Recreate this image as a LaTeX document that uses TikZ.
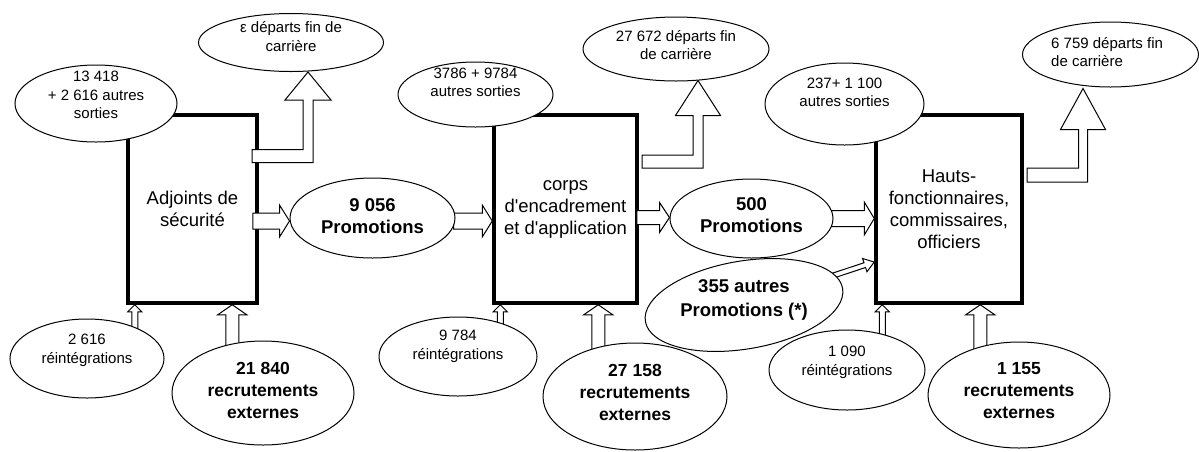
\documentclass[tikz,border=0pt]{standalone}
\usepackage{fontspec}
\setmainfont{Liberation Sans}
\usetikzlibrary{calc,shapes.geometric}

\pgfdeclarelayer{cadres}
\pgfdeclarelayer{fleches}
\pgfsetlayers{cadres,fleches,main}

\tikzset{
  corps/.style={draw, line width=3.5pt, minimum width=#1, minimum height=188pt,
    inner sep=0pt, align=center, font=\fontsize{18.5}{22}\selectfont},
  oval/.style={ellipse, draw, line width=1pt, fill=white, inner sep=0pt},
  txt/.style={align=center, inner sep=0pt, font=\fontsize{15}{18.5}\selectfont},
  btxt/.style={align=center, inner sep=0pt, font=\fontsize{18.5}{22.5}\selectfont\bfseries},
  rtxt/.style={align=center, inner sep=0pt, font=\fontsize{17.5}{22}\selectfont\bfseries},
  fleche/.style={draw, line width=1pt, fill=white, line join=miter},
}

% straight hollow block arrow: tail, tip, shaft half width, head half width, head length
\newcommand\blockarrow[5]{%
  \coordinate (ba-h) at ($(#2)!#5!(#1)$);
  \draw[fleche] ($(#1)!#3!90:(#2)$) -- ($(ba-h)!#3!90:(#2)$) -- ($(ba-h)!#4!90:(#2)$)
    -- (#2) -- ($(ba-h)!#4!-90:(#2)$) -- ($(ba-h)!#3!-90:(#2)$) -- ($(#1)!#3!-90:(#2)$) -- cycle;
}
% hollow arrow going right, then turning up: start, tip, bar half width,
% shaft half width, head half width, head length
\newcommand\bentarrow[6]{%
  \coordinate (bb-c) at (#2 |- #1);
  \draw[fleche] ($(#1)+(0,-#3)$) -- ($(bb-c)+(-#4,-#3)$) -- ($(#2)+(-#4,#6)$)
    -- ($(#2)+(-#5,#6)$) -- (#2) -- ($(#2)+(#5,#6)$) -- ($(#2)+(#4,#6)$)
    -- ($(bb-c)+(#4,#3)$) -- ($(#1)+(0,#3)$) -- cycle;
}

\begin{document}
\begin{tikzpicture}[x=1pt, y=-1pt]
\useasboundingbox (0,0) rectangle (1199,451);

% the three bodies
\begin{pgfonlayer}{cadres}
  \fill[white] (0,0) rectangle (1199,451);
  \node[corps=129pt] (b1) at (192.5,209) {Adjoints de\\sécurité};
  \node[corps=143pt] (b2) at (565.5,209) {corps\\d\textquotesingle encadrement\\et d\textquotesingle application};
  \node[corps=146pt] (b3) at (949,209) {Hauts-\\fonctionnaires,\\commissaires,\\officiers};
\end{pgfonlayer}

% departures and other exits
\node[oval, minimum width=185pt, minimum height=58pt] (eps) at (291,42.5) {};
\node[txt] (epst) at ($(eps.center)+(0,-6)$) {ε départs fin de\\carrière};
\node[oval, minimum width=162pt, minimum height=77pt] (s1) at (96,103.5) {};
\node[txt] (s1t) at ($(s1.center)+(0,-8.5)$) {13 418\\+ 2 616 autres\\sorties};
\node[oval, minimum width=155pt, minimum height=65pt] (s2) at (475.5,94.5) {};
\node[txt] (s2t) at ($(s2.center)+(0,-12)$) {3786 + 9784\\autres sorties};
\node[oval, minimum width=186pt, minimum height=64pt] (d2) at (676,49) {};
\node[txt] (d2t) at ($(d2.center)+(0,-4)$) {27 672 départs fin\\de carrière};
\node[oval, minimum width=159pt, minimum height=82pt] (s3) at (844.5,104) {};
\node[txt] (s3t) at ($(s3.center)+(0,-11.5)$) {237+ 1 100\\autres sorties};
\node[oval, minimum width=176pt, minimum height=65pt] (d3) at (1110.5,54.5) {};
\node[txt, align=left, anchor=west] (d3t) at ($(d3.center)+(-59.5,-2.5)$) {6 759 départs fin\\de carrière};

% promotions
\node[oval, minimum width=165pt, minimum height=80pt] (p1) at (372.5,218) {};
\node[btxt] (p1t) at ($(p1.center)+(0,-2)$) {9 056\\Promotions};
\node[oval, minimum width=163pt, minimum height=79pt] (p2) at (751.5,218.5) {};
\node[btxt] (p2t) at ($(p2.center)+(0,-3.5)$) {500\\Promotions};
\node[oval, minimum width=200pt, minimum height=88pt, rotate=9.5] (q) at (744,305) {};
\node[btxt, font=\fontsize{18.5}{24}\selectfont\bfseries] (qt) at ($(q.center)+(0,-5)$) {355 autres\\Promotions (*)};

% entries
\node[oval, minimum width=154pt, minimum height=79pt] (r1) at (87,358.5) {};
\node[txt] (r1t) at ($(r1.center)+(0,-8)$) {2 616\\réintégrations};
\node[oval, minimum width=182pt, minimum height=104pt] (x1) at (263,393) {};
\node[rtxt] (x1t) at ($(x1.center)+(0,-3)$) {21 840\\recrutements\\externes};
\node[oval, minimum width=158pt, minimum height=79pt] (r2) at (458,356.5) {};
\node[txt] (r2t) at ($(r2.center)+(0,-10)$) {9 784\\réintégrations};
\node[oval, minimum width=184pt, minimum height=107pt] (x2) at (635,396.5) {};
\node[rtxt] (x2t) at ($(x2.center)+(0,-4.5)$) {27 158\\recrutements\\externes};
\node[oval, minimum width=156pt, minimum height=80pt] (r3) at (847,370) {};
\node[txt] (r3t) at ($(r3.center)+(0,-7.5)$) {1 090\\réintégrations};
\node[oval, minimum width=182pt, minimum height=106pt] (x3) at (1019,395) {};
\node[rtxt] (x3t) at ($(x3.center)+(0,-4.5)$) {1 155\\recrutements\\externes};

\begin{pgfonlayer}{fleches}
  % end-of-career departures
  \coordinate (t1s) at ($(b1.east)+(-6.75,-53)$);
  \coordinate (t1t) at ($(eps.south)+(17,0)$);
  \bentarrow{t1s}{t1t}{6.5}{5}{23}{28}
  \coordinate (t2s) at ($(b2.east)+(3.25,-47.5)$);
  \coordinate (t2t) at ($(d2.south)+(22,-1)$);
  \bentarrow{t2s}{t2t}{6.5}{5}{22.5}{35}
  \coordinate (t3s) at ($(b3.east)+(3.25,-34)$);
  \coordinate (t3t) at ($(d3.south)+(-27.5,1)$);
  \bentarrow{t3s}{t3t}{7}{4.5}{22.5}{41}

  % promotion flows
  \coordinate (h1b) at ($(p1.west)+(0,3)$);
  \coordinate (h1a) at ($(b1.east |- h1b)+(-6,0)$);
  \blockarrow{h1a}{h1b}{8pt}{16pt}{10pt}
  \coordinate (h2a) at ($(p1.east)+(-2,3)$);
  \coordinate (h2b) at (b2.west |- h2a);
  \blockarrow{h2a}{h2b}{8pt}{16pt}{10pt}
  \coordinate (h3b) at ($(p2.west)+(0,-1)$);
  \coordinate (h3a) at ($(b2.east |- h3b)+(-2,0)$);
  \blockarrow{h3a}{h3b}{7pt}{15pt}{10pt}
  \coordinate (h4a) at ($(p2.east)+(-2,0)$);
  \coordinate (h4b) at (b3.west |- h4a);
  \blockarrow{h4a}{h4b}{8pt}{16.5pt}{10pt}
  \coordinate (dgb) at ($(b3.west)+(0,53)$);
  \blockarrow{q.center}{dgb}{2.5pt}{7pt}{10pt}

  % reinstatements and external recruitment
  \coordinate (v1b) at ($(b1.south west)+(8.5,0)$);
  \coordinate (v1a) at (v1b |- r1.center);
  \blockarrow{v1a}{v1b}{3pt}{7pt}{7pt}
  \coordinate (v2b) at ($(b1.south west)+(106,0)$);
  \coordinate (v2a) at (v2b |- x1.center);
  \blockarrow{v2a}{v2b}{6.5pt}{14.5pt}{10pt}
  \coordinate (v3b) at ($(b2.south west)+(8,0)$);
  \coordinate (v3a) at (v3b |- r2.center);
  \blockarrow{v3a}{v3b}{3pt}{7pt}{7pt}
  \coordinate (v4b) at ($(b2.south west)+(106,0)$);
  \coordinate (v4a) at (v4b |- x2.center);
  \blockarrow{v4a}{v4b}{6.5pt}{14.5pt}{10pt}
  \coordinate (v5b) at ($(b3.south west)+(8,0)$);
  \coordinate (v5a) at (v5b |- r3.center);
  \blockarrow{v5a}{v5b}{3pt}{7pt}{7pt}
  \coordinate (v6b) at ($(b3.south west)+(106,0)$);
  \coordinate (v6a) at (v6b |- x3.center);
  \blockarrow{v6a}{v6b}{6.5pt}{14.5pt}{10pt}
\end{pgfonlayer}
\end{tikzpicture}
\end{document}
